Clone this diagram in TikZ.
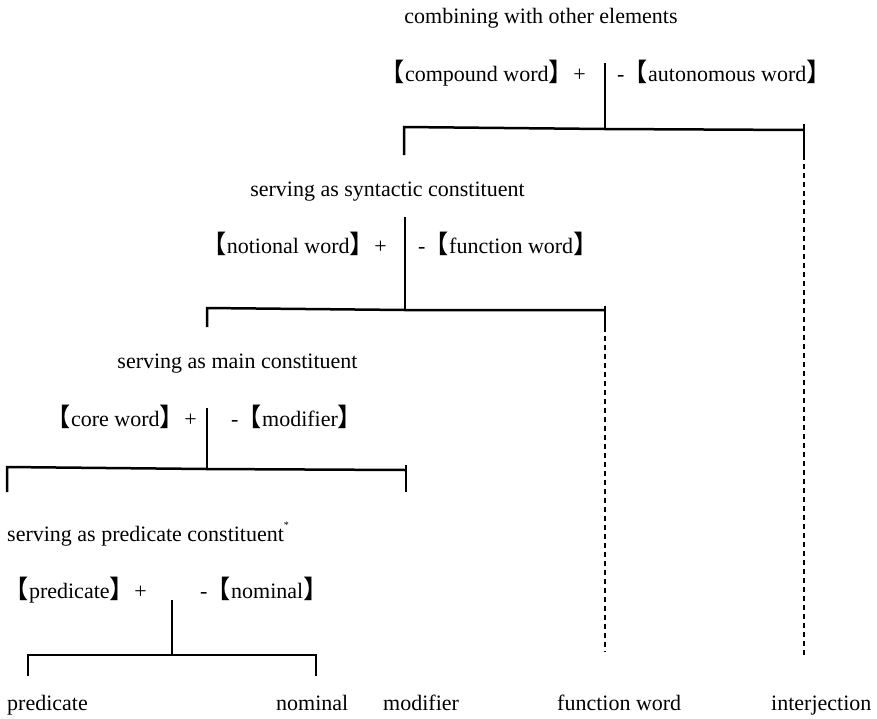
\documentclass[tikz,border=0pt]{standalone}
\usepackage{fontspec}
\setmainfont{Liberation Serif}
\newfontfamily\cjk[RawFeature=+halt,Scale=1.15]{Noto Sans CJK SC}
\newcommand{\lbk}{{\cjk 【}}
\newcommand{\rbk}{{\cjk 】}}
\newcommand{\dsh}{-\hspace{0.5em}}
\newcommand{\pls}{\hspace{0.55em}+}
\begin{document}
\begin{tikzpicture}[x=1pt,y=-1pt,
  txt/.style={inner sep=0pt, font=\fontsize{22}{26}\selectfont},
  wl/.style={txt, anchor=base west},
  el/.style={txt, anchor=base east},
  ml/.style={txt, anchor=base},
  solidline/.style={line width=2.5pt, line join=miter},
  dashline/.style={line width=1.2pt, dash pattern=on 5pt off 4pt}]
\useasboundingbox (0,0) rectangle (877,718);

% ---- level 1
\node[ml] (t1) at (541,23) {combining with other elements};
\node[el] (l1) at (586,81) {\lbk compound word\rbk\pls};
\node[wl] (r1) at (617,81) {\dsh\lbk autonomous word\rbk};
\coordinate (v1t) at (605,63);
\coordinate (v1j) at (605,129);
\coordinate (h1l) at (404,127);
\coordinate (h1lb) at (404,155);
\coordinate (h1r) at (804,130);
\coordinate (h1rt) at (804,124);
\coordinate (h1rb) at (804,155);
\coordinate (d1b) at (804,657);
\draw[solidline] (v1t) -- (v1j);
\draw[solidline] (h1lb) -- (h1l) -- (v1j) -- (h1r);
\draw[solidline] (h1rt) -- (h1rb);
\draw[dashline] (h1rb) -- (d1b);

% ---- level 2
\node[ml] (t2) at (387.5,196) {serving as syntactic constituent};
\node[el] (l2) at (387,253) {\lbk notional word\rbk\pls};
\node[wl] (r2) at (418,253) {\dsh\lbk function word\rbk};
\coordinate (v2t) at (405,217);
\coordinate (v2j) at (405,310);
\coordinate (h2l) at (207,308);
\coordinate (h2lb) at (207,327);
\coordinate (h2r) at (605,310);
\coordinate (h2rt) at (605,306);
\coordinate (h2rb) at (605,327);
\coordinate (d2b) at (605,652);
\draw[solidline] (v2t) -- (v2j);
\draw[solidline] (h2lb) -- (h2l) -- (v2j) -- (h2r);
\draw[solidline] (h2rt) -- (h2rb);
\draw[dashline] (h2rb) -- (d2b);

% ---- level 3
\node[ml] (t3) at (237.5,368) {serving as main constituent};
\node[el] (l3) at (197,426) {\lbk core word\rbk\pls};
\node[wl] (r3) at (231,426) {\dsh\lbk modifier\rbk};
\coordinate (v3t) at (207,408);
\coordinate (v3j) at (207,469);
\coordinate (h3l) at (7,467);
\coordinate (h3lb) at (7,492);
\coordinate (h3r) at (406,470);
\coordinate (h3rt) at (406,465);
\coordinate (h3rb) at (406,492);
\draw[solidline] (v3t) -- (v3j);
\draw[solidline] (h3lb) -- (h3l) -- (v3j) -- (h3r);
\draw[solidline] (h3rt) -- (h3rb);

% ---- level 4
\node[wl] (t4) at (7,541) {serving as predicate constituent\raisebox{0.55em}{\fontsize{10}{10}\selectfont *}};
\node[el] (l4) at (147,598) {\lbk predicate\rbk\pls};
\node[wl] (r4) at (200,598) {\dsh\lbk nominal\rbk};
\coordinate (v4t) at (172,600);
\coordinate (v4j) at (172,655);
\coordinate (h4l) at (28,655);
\coordinate (h4lb) at (28,676);
\coordinate (h4r) at (316,655);
\coordinate (h4rb) at (316,676);
\draw[solidline] (v4t) -- (v4j);
\draw[solidline] (h4lb) -- (h4l) -- (h4r) -- (h4rb);

% ---- leaves
\node[wl] (pred) at (7,710) {predicate};
\node[wl] (nom) at (276,710) {nominal};
\node[wl] (mod) at (383,710) {modifier};
\node[wl] (fw) at (557,710) {function word};
\node[wl] (interj) at (771,710) {interjection};
\end{tikzpicture}
\end{document}
